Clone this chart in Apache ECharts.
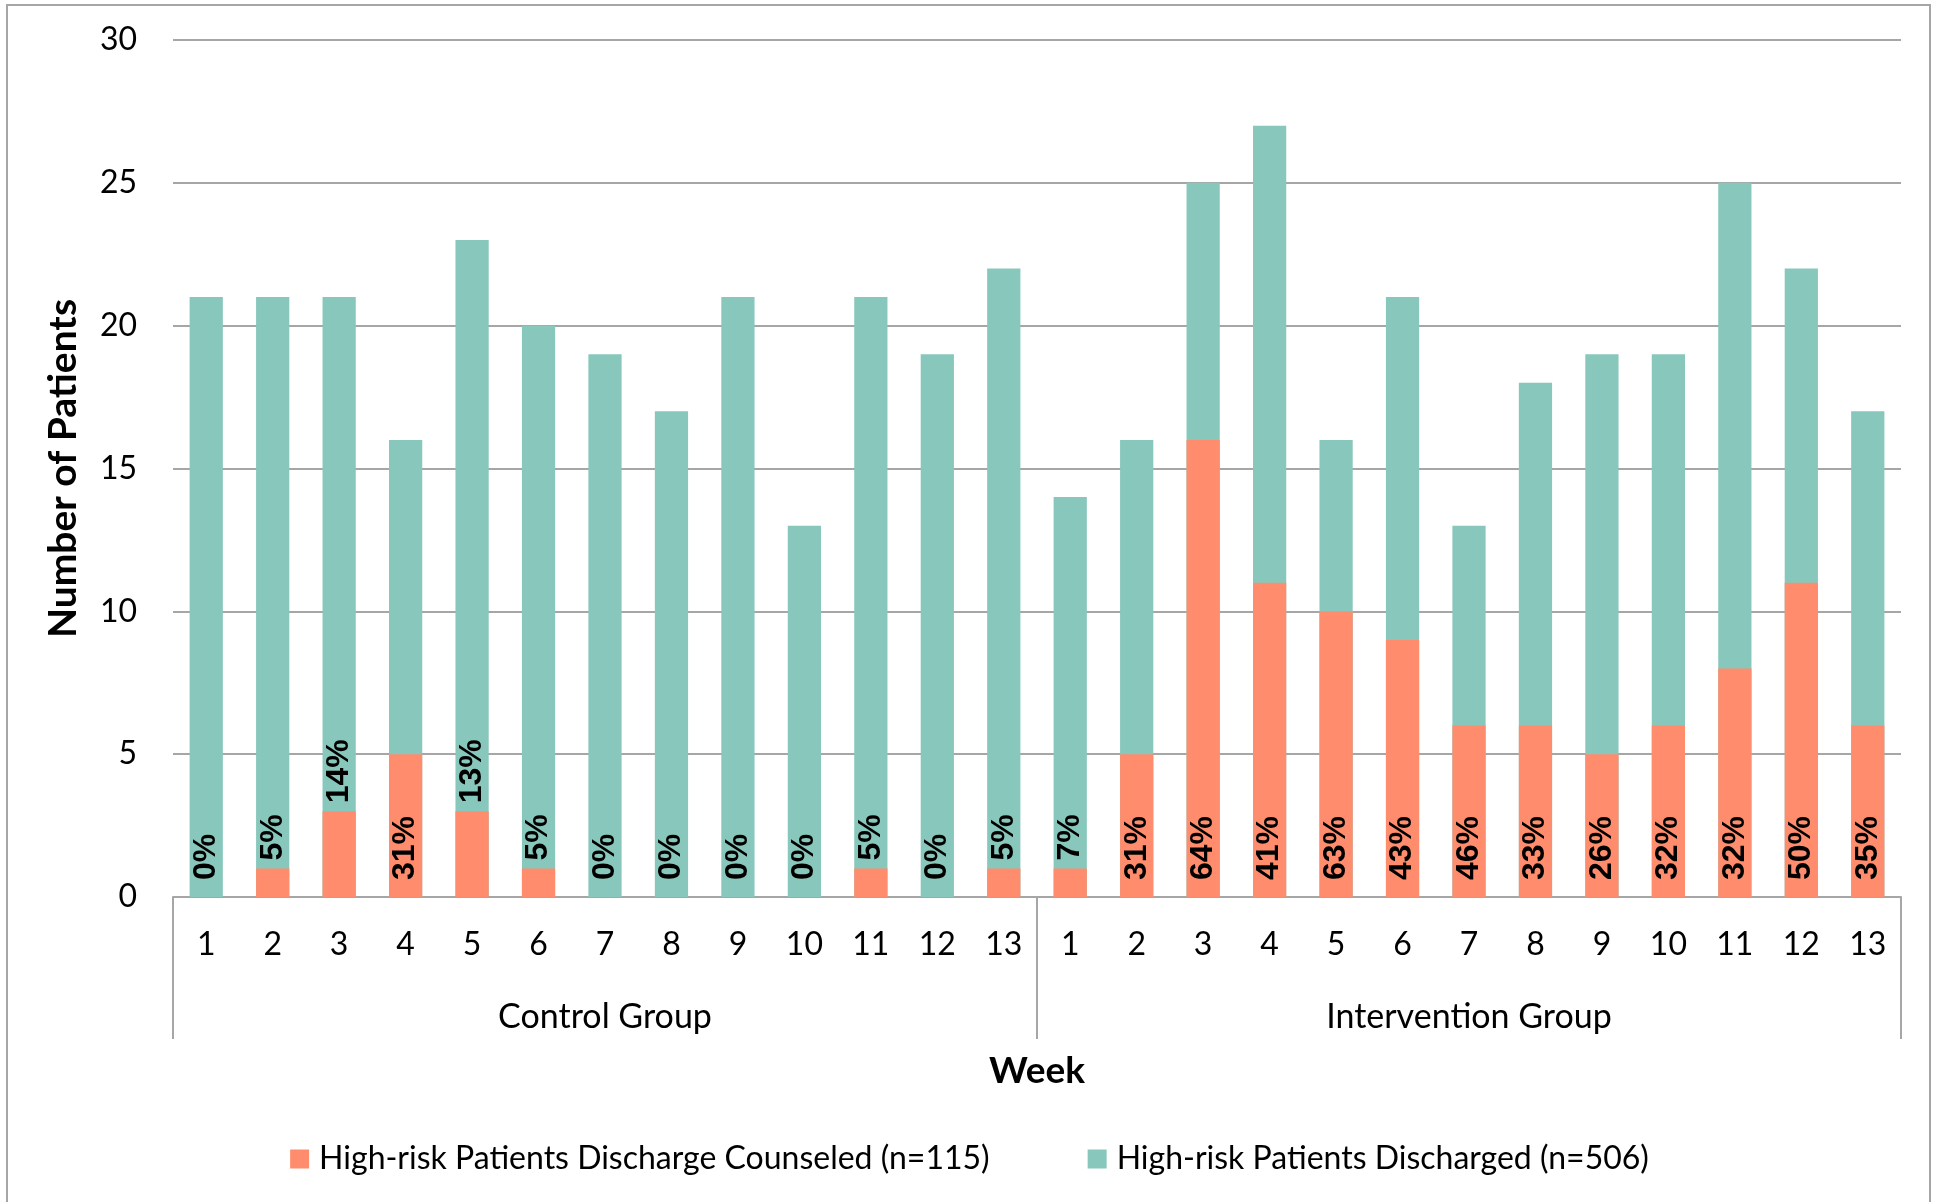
<!DOCTYPE html>
<html>
<head>
<meta charset="utf-8">
<script src="https://cdn.jsdelivr.net/npm/echarts@6/dist/echarts.min.js"></script>
<style>
  html, body { margin: 0; padding: 0; background: #fff; }
  #main { width: 1939px; height: 1202px; }
</style>
</head>
<body>
<div id="main"></div>
<script>
// week numbers and groups
var weeks = ['1','2','3','4','5','6','7','8','9','10','11','12','13',
             '1','2','3','4','5','6','7','8','9','10','11','12','13'];
var groups = ['Control Group', 'Intervention Group'];

// number discharged (teal) per week, control then intervention
var discharged = [21, 21, 21, 16, 23, 20, 19, 17, 21, 13, 21, 19, 22,
                  14, 16, 25, 27, 16, 21, 13, 18, 19, 19, 25, 22, 17];
// number counseled (orange)
var counseled = [0, 1, 3, 5, 3, 1, 0, 0, 0, 0, 1, 0, 1,
                 1, 5, 16, 11, 10, 9, 6, 6, 5, 6, 8, 11, 6];
// percent labels as printed
var pctLabels = ['0%','5%','14%','31%','13%','5%','0%','0%','0%','0%','5%','0%','5%',
                 '7%','31%','64%','41%','63%','43%','46%','33%','26%','32%','32%','50%','35%'];

var nameCounseled = 'High-risk Patients Discharge Counseled (n=115)';
var nameDischarged = 'High-risk Patients Discharged (n=506)';

var gridColor = '#A6A6A6';
var fontMain = 'Lato';

var counseledData = counseled.map(function(v, i){
	// short bars get their label above the bar, others sit at the bottom
	var onTop = v > 0 && v < 5;
	return {
		value: v,
		label: {
			position: onTop ? 'top' : 'insideBottom',
			distance: onTop ? 8 : 17
		}
	};
});

var myChart = echarts.init(document.getElementById('main'));

var option = {
	animation: false,
	graphic: [{
		type: 'rect',
		shape: { x: 7, y: 5, width: 1923, height: 1210 },
		style: { fill: 'none', stroke: gridColor, lineWidth: 2 },
		silent: true
	}],
	grid: { left: 173, right: 38, top: 40, bottom: 305 },
	legend: {
		bottom: 22,
		left: 'center',
		data: [nameCounseled, nameDischarged],
		itemWidth: 19,
		itemHeight: 19,
		itemGap: 98,
		icon: 'rect',
		textStyle: { fontFamily: fontMain, fontSize: 32, color: '#000', padding: [0, 0, 0, 5] }
	},
	xAxis: [{
		type: 'category',
		data: weeks,
		axisTick: { show: false },
		axisLine: { lineStyle: { color: gridColor, width: 2 } },
		axisLabel: { fontFamily: fontMain, fontSize: 32, color: '#000', margin: 32, interval: 0 }
	}, {
		type: 'category',
		data: groups,
		position: 'bottom',
		axisLine: { show: false },
		axisTick: { show: true, length: 142, lineStyle: { color: gridColor, width: 2 } },
		axisLabel: { fontFamily: fontMain, fontSize: 34, color: '#000', margin: 103 },
		name: 'Week',
		nameLocation: 'middle',
		nameGap: 156,
		nameTextStyle: { fontFamily: fontMain, fontSize: 37, fontWeight: 'bold', color: '#000' }
	}],
	yAxis: {
		type: 'value',
		min: 0,
		max: 30,
		interval: 5,
		name: 'Number of Patients',
		nameLocation: 'middle',
		nameGap: 90,
		nameTextStyle: { fontFamily: fontMain, fontSize: 39, fontWeight: 'bold', color: '#000' },
		axisLine: { show: false },
		axisTick: { show: false },
		axisLabel: { fontFamily: fontMain, fontSize: 32, color: '#000', margin: 36 },
		splitLine: { lineStyle: { color: gridColor, width: 2 } }
	},
	series: [{
		name: nameDischarged,
		type: 'bar',
		xAxisIndex: 0,
		data: discharged,
		barCategoryGap: '50%',
		itemStyle: { color: '#88C7BB' }
	}, {
		name: nameCounseled,
		type: 'bar',
		xAxisIndex: 0,
		data: counseledData,
		barGap: '-100%',
		barCategoryGap: '50%',
		itemStyle: { color: '#FF8D6D' },
		label: {
			show: true,
			rotate: 90,
			align: 'left',
			verticalAlign: 'middle',
			fontFamily: 'Liberation Sans',
			fontWeight: 'bold',
			fontSize: 32,
			color: '#000',
			formatter: function(p){ return pctLabels[p.dataIndex]; }
		}
	}]
};

myChart.setOption(option);
</script>
</body>
</html>
